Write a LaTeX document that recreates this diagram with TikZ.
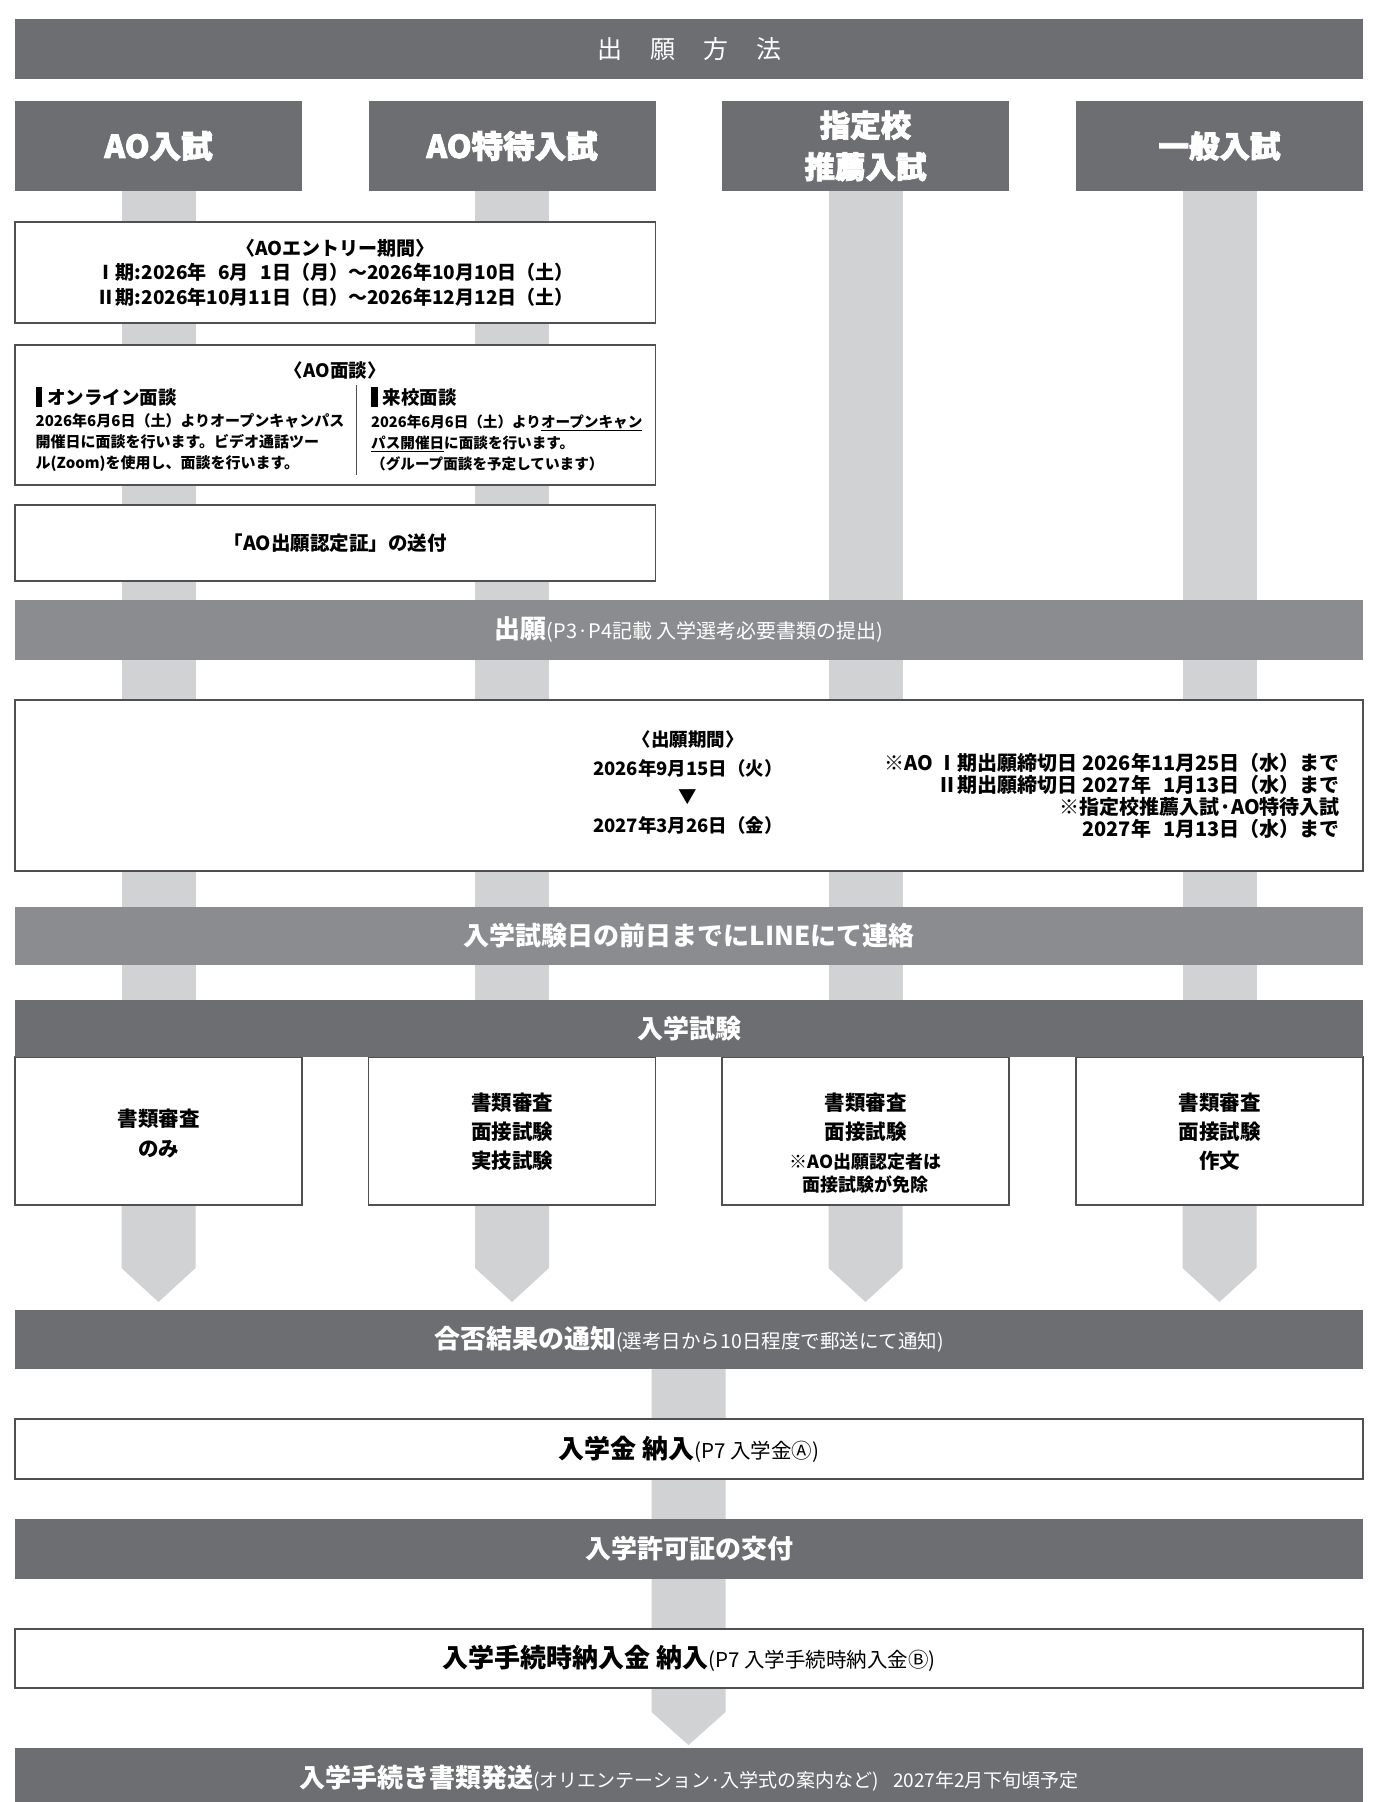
\documentclass[tikz,border=0pt]{standalone}
\usepackage{fontspec}
\setmainfont{Noto Sans CJK JP}
\newfontfamily\jphead{Noto Sans CJK JP}[BoldFeatures={FakeBold=2.5}]
\definecolor{dkc}{HTML}{6D6E71}
\definecolor{mdc}{HTML}{8B8C8F}
\definecolor{stc}{HTML}{D1D2D4}
\definecolor{bdc}{HTML}{505052}
\newcommand\fsz[2]{\fontsize{#1}{#2}\selectfont}
\begin{document}
\begin{tikzpicture}[x=1pt,y=-1pt,
  darkbar/.style={fill=dkc,draw=none,inner sep=0pt,text=white,font=\bfseries\fsz{26}{30},minimum width=1348pt},
  midbar/.style={darkbar,fill=mdc},
  head/.style={fill=dkc,draw=none,inner sep=0pt,text=white,font=\jphead\bfseries\fsz{31.5}{41.5},minimum width=287pt,minimum height=90pt,align=center},
  wbox/.style={fill=white,draw=bdc,line width=1.3pt,inner sep=0pt},
  btxt/.style={inner sep=0pt,text=black,font=\bfseries\fsz{19}{24},align=center},
  stripc/.style={fill=stc}
]
\useasboundingbox (0,0) rectangle (1382,1802);
\fill[white] (0,0) rectangle (1382,1802);

% vertical strips and arrow heads
\foreach \c in {158.5,512,865.5,1219.5}{
  \fill[stripc] (\c-37,185) rectangle (\c+37,1005);
  \fill[stripc] (\c-37,1200) -- (\c+37,1200) -- (\c+37,1268) -- (\c,1302) -- (\c-37,1268) -- cycle;
}
\fill[stripc] (651.5,1365) -- (725.5,1365) -- (725.5,1712) -- (688.5,1745) -- (651.5,1712) -- cycle;

% title bar
\node[darkbar,minimum height=60pt,font=\fsz{25}{28}] (title) at (689,49) {出\hspace{28pt}願\hspace{28pt}方\hspace{28pt}法};

% column headers
\node[head] (h1) at (158.5,146) {AO入試};
\node[head] (h2) at (512,146) {AO特待入試};
\node[head,font=\jphead\bfseries\fsz{30.5}{41.5}] (h3) at (865.5,146) {指定校\\推薦入試};
\node[head,font=\jphead\bfseries\fsz{30.5}{41.5}] (h4) at (1219.5,146) {一般入試};

% AO entry period
\node[wbox,btxt,minimum width=640.5pt,minimum height=101pt,font=\bfseries\fsz{19}{24.5}] (entry) at (335.25,272.5)
  {〈AOエントリー期間〉\\Ⅰ期:2026年\hphantom{1}6月\hphantom{1}1日（月）～2026年10月10日（土）\\Ⅱ期:2026年10月11日（日）～2026年12月12日（土）};

% AO interview
\node[wbox,minimum width=640.5pt,minimum height=140pt] (mendan) at (335.25,415) {};
\node[btxt,font=\bfseries\fsz{18.5}{22}] (mtitle) at (335.25,370) {〈AO面談〉};
\node[btxt,anchor=west,font=\bfseries\fsz{18.5}{22}] (msubl) at (35.5,397) {\rule[-3pt]{6.5pt}{20pt}\hspace{5pt}オンライン面談};
\node[btxt,anchor=west,font=\bfseries\fsz{18.5}{22}] (msubr) at (371,397) {\rule[-3pt]{6.5pt}{20pt}\hspace{5pt}来校面談};
\node[btxt,anchor=west,align=left,font=\bfseries\fsz{15}{21}] (mbodyl) at (35.5,443)
  {2026年6月6日（土）よりオープンキャンパス\\開催日に面談を行います。ビデオ通話ツー\\ル(Zoom)を使用し、面談を行います。};
\node[btxt,anchor=west,align=left,font=\bfseries\fsz{14.6}{21}] (mbodyr) at (371,443)
  {2026年6月6日（土）より\underline{オープンキャン}\\\underline{パス開催日}に面談を行います。\\（グループ面談を予定しています）};
\draw[bdc,line width=1pt] (356,385) -- (356,475);

% certificate
\node[wbox,btxt,minimum width=640.5pt,minimum height=76pt,font=\bfseries\fsz{19.5}{24}] (nintei) at (335.25,543) {「AO出願認定証」の送付};

% application bar
\node[midbar,minimum height=60pt] (shutsugan) at (689,630) {出願{\mdseries\fsz{20}{24}(P3·P4記載 入学選考必要書類の提出)}};

% application period
\node[wbox,minimum width=1348pt,minimum height=171pt] (kikan) at (689,785.5) {};
\node[btxt,font=\bfseries\fsz{18.5}{28.5}] (kikanc) at (688,782.5) {〈出願期間〉\\2026年9月15日（火）\\▼\\2027年3月26日（金）};
\node[btxt,anchor=east,align=right,font=\bfseries\fsz{20}{22}] (kikanr) at (1340,795.5)
  {※AO Ⅰ期出願締切日 2026年11月25日（水）まで\\Ⅱ期出願締切日 2027年\hphantom{1}1月13日（水）まで\\※指定校推薦入試·AO特待入試\\2027年\hphantom{1}1月13日（水）まで};

% LINE
\node[midbar,minimum height=58pt] (line) at (689,936) {入学試験日の前日までにLINEにて連絡};

% exam boxes and bar
\foreach \c/\n in {158.5/e1,512/e2,865.5/e3,1219.5/e4}
  \node[wbox,minimum width=287pt,minimum height=148pt] (\n) at (\c,1131) {};
\node[darkbar,minimum height=57pt] (exam) at (689,1028.5) {入学試験};
\node[btxt,font=\bfseries\fsz{20.5}{30}] (e1t) at (158.5,1133) {書類審査\\のみ};
\node[btxt,font=\bfseries\fsz{20.5}{29}] (e2t) at (512,1132) {書類審査\\面接試験\\実技試験};
\node[btxt,font=\bfseries\fsz{20.5}{29}] (e3t) at (865.5,1143.5) {書類審査\\面接試験\\{\fsz{18}{23}※AO出願認定者は}\\[-6pt]{\fsz{18}{23}面接試験が免除}};
\node[btxt,font=\bfseries\fsz{20.5}{29}] (e4t) at (1219.5,1132) {書類審査\\面接試験\\作文};

% result notice
\node[darkbar,minimum height=59pt] (gohi) at (689,1339.5) {合否結果の通知{\mdseries\fsz{19.5}{22}(選考日から10日程度で郵送にて通知)}};

% entrance fee
\node[wbox,btxt,minimum width=1348pt,minimum height=60pt,font=\bfseries\fsz{26}{30}] (kin) at (689,1449) {入学金 納入{\mdseries\fsz{20.5}{24}(P7 入学金Ⓐ)}};

% permit
\node[darkbar,minimum height=60pt] (kyoka) at (689,1549) {入学許可証の交付};

% procedure fee
\node[wbox,btxt,minimum width=1348pt,minimum height=59pt,font=\bfseries\fsz{26}{30}] (tetsuzuki) at (689,1658.5) {入学手続時納入金 納入{\mdseries\fsz{20.5}{24}(P7 入学手続時納入金Ⓑ)}};

% documents sent
\node[darkbar,minimum height=60pt] (hassou) at (689,1778) {入学手続き書類発送{\mdseries\fsz{19}{22}(オリエンテーション·入学式の案内など)\hspace{14pt}2027年2月下旬頃予定}};
\end{tikzpicture}
\end{document}
